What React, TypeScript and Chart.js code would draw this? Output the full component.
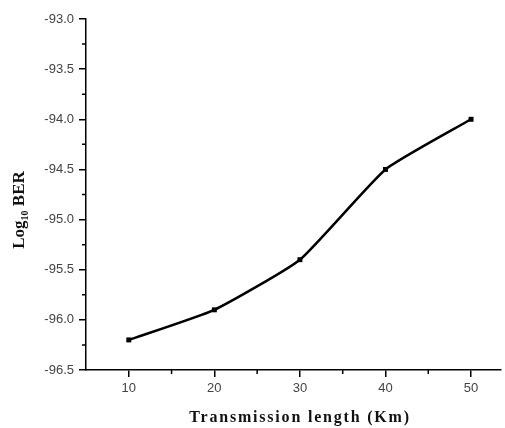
import React, { useEffect, useRef } from "react";
import { Chart, registerables } from "chart.js";

Chart.register(...registerables);

const lengths = [10, 20, 30, 40, 50];
const logBer = [-96.2, -95.9, -95.4, -94.5, -94.0];
const xMajorTicks = [10, 20, 30, 40, 50];
const xMinorTicks = [15, 25, 35, 45];
const yMajorTicks = [-96.5, -96.0, -95.5, -95.0, -94.5, -94.0, -93.5, -93.0];
const yMinorTicks = [-96.25, -95.75, -95.25, -94.75, -94.25, -93.75, -93.25];
const xTitle = "Transmission length (Km)";
const yTitleMain = "Log";
const yTitleSub = "10";
const yTitleRest = " BER";

const decorPlugin = {
  id: "decor",
  afterDraw(chart: any) {
    const ctx = chart.ctx as CanvasRenderingContext2D;
    const xs = chart.scales.x;
    const ys = chart.scales.y;
    const area = chart.chartArea;
    ctx.save();
    ctx.strokeStyle = "#000";
    ctx.lineWidth = 1.5;
    ctx.beginPath();
    xMinorTicks.forEach((v) => {
      const px = xs.getPixelForValue(v);
      ctx.moveTo(px, area.bottom);
      ctx.lineTo(px, area.bottom + 4);
    });
    yMinorTicks.forEach((v) => {
      const py = ys.getPixelForValue(v);
      ctx.moveTo(area.left, py);
      ctx.lineTo(area.left - 4, py);
    });
    ctx.stroke();

    // x title
    ctx.fillStyle = "#111";
    ctx.font = "bold 16px 'Liberation Serif', serif";
    (ctx as any).letterSpacing = "1.8px";
    ctx.textAlign = "center";
    ctx.textBaseline = "middle";
    ctx.fillText(xTitle, 300, 418);
    (ctx as any).letterSpacing = "0px";

    // y title, rotated
    ctx.translate(20, 210);
    ctx.rotate(-Math.PI / 2);
    ctx.textAlign = "left";
    ctx.textBaseline = "middle";
    const big = "bold 17px 'Liberation Serif', serif";
    const small = "bold 10px 'Liberation Serif', serif";
    ctx.font = big;
    const w1 = ctx.measureText(yTitleMain).width;
    ctx.font = small;
    const w2 = ctx.measureText(yTitleSub).width;
    ctx.font = big;
    const w3 = ctx.measureText(yTitleRest).width;
    const total = w1 + w2 + w3;
    let x0 = -total / 2;
    ctx.font = big;
    ctx.fillText(yTitleMain, x0, 0);
    x0 += w1;
    ctx.font = small;
    ctx.fillText(yTitleSub, x0, 5);
    x0 += w2;
    ctx.font = big;
    ctx.fillText(yTitleRest, x0, 0);
    ctx.restore();
  },
};

export default function App() {
  const ref = useRef<HTMLCanvasElement | null>(null);
  useEffect(() => {
    if (!ref.current) return;
    const tickFont = { family: "'Liberation Sans', Arial, sans-serif", size: 13 };
    const chart = new Chart(ref.current, {
      type: "line",
      data: {
        datasets: [
          {
            data: lengths.map((x, i) => ({ x, y: logBer[i] })),
            borderColor: "#000",
            backgroundColor: "#000",
            borderWidth: 2.5,
            pointStyle: "rect",
            pointRadius: 3.5,
            pointBorderWidth: 0,
            tension: 0.15,
          },
        ],
      },
      options: {
        animation: false,
        responsive: false,
        maintainAspectRatio: false,
        layout: { padding: { top: 19, right: 0, left: 0, bottom: 0 } },
        plugins: {
          legend: { display: false },
          tooltip: { enabled: false },
        },
        scales: {
          x: {
            type: "linear",
            min: 5,
            max: 53.5,
            afterBuildTicks: (s: any) => {
              s.ticks = xMajorTicks.map((v) => ({ value: v }));
            },
            afterFit: (s: any) => {
              s.height = 58;
            },
            border: { color: "#000", width: 1.5 },
            grid: {
              drawOnChartArea: false,
              drawTicks: true,
              tickLength: 7,
              color: "#000",
              lineWidth: 1.5,
            },
            ticks: {
              color: "#444",
              font: tickFont,
              padding: 4,
              maxRotation: 0,
              callback: (v: any) => String(v),
            },
          },
          y: {
            type: "linear",
            min: -96.5,
            max: -93.0,
            afterBuildTicks: (s: any) => {
              s.ticks = yMajorTicks.map((v) => ({ value: v }));
            },
            afterFit: (s: any) => {
              s.width = 86;
            },
            border: { color: "#000", width: 1.5 },
            grid: {
              drawOnChartArea: false,
              drawTicks: true,
              tickLength: 7,
              color: "#000",
              lineWidth: 1.5,
            },
            ticks: {
              color: "#444",
              font: tickFont,
              padding: 5,
              callback: (v: any) => Number(v).toFixed(1),
            },
          },
        },
      },
      plugins: [decorPlugin],
    });
    return () => chart.destroy();
  }, []);
  return (
    <div style={{ position: "fixed", left: 0, top: 0, width: 505, height: 428, background: "#fff" }}>
      <canvas ref={ref} width={505} height={428} style={{ width: 505, height: 428 }} />
    </div>
  );
}
